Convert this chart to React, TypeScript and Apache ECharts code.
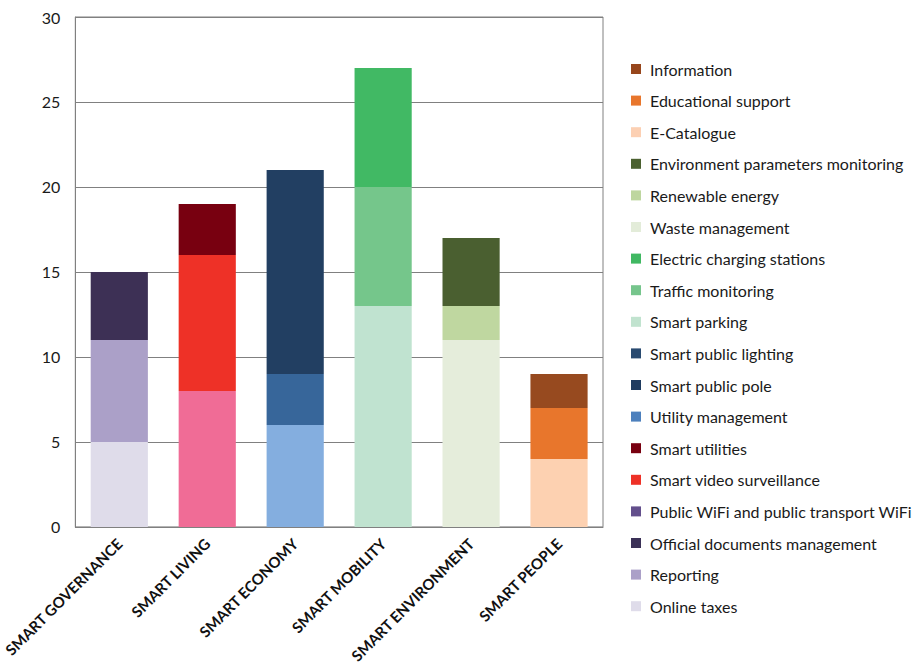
import React, { useEffect, useRef } from "react";
import * as echarts from "echarts";

const categories = [
  "SMART GOVERNANCE",
  "SMART LIVING",
  "SMART ECONOMY",
  "SMART MOBILITY",
  "SMART ENVIRONMENT",
  "SMART PEOPLE",
];

// series in stacking order (bottom to top within each category)
const seriesNames = [
  "Online taxes",
  "Reporting",
  "Official documents management",
  "Public WiFi and public transport WiFi",
  "Smart video surveillance",
  "Smart utilities",
  "Utility management",
  "Smart public pole",
  "Smart public lighting",
  "Smart parking",
  "Traffic monitoring",
  "Electric charging stations",
  "Waste management",
  "Renewable energy",
  "Environment parameters monitoring",
  "E-Catalogue",
  "Educational support",
  "Information",
];

// category index each series belongs to
const seriesCategory = [0, 0, 0, 1, 1, 1, 2, 2, 2, 3, 3, 3, 4, 4, 4, 5, 5, 5];

// value of each series
const seriesValues = [5, 6, 4, 8, 8, 3, 6, 3, 12, 13, 7, 7, 11, 2, 4, 4, 3, 2];

// legend swatch colours
const legendColors = [
  "#dfdcea", "#aba0c8", "#3b3157",
  "#634f8c", "#ee3127", "#780010",
  "#4d80bd", "#1f3b60", "#294a70",
  "#c1e3cf", "#76c58c", "#40b862",
  "#e3ecd9", "#bed69f", "#4b6130",
  "#fcd0b3", "#e8762c", "#97461c",
];

// bar fill colours
const barColors = [
  "#dfdcea", "#aba0c8", "#3d3055",
  "#f06c96", "#ee3127", "#780010",
  "#84aedf", "#37669a", "#223f62",
  "#c0e3d0", "#75c68b", "#41b964",
  "#e5eddb", "#bfd7a0", "#4a5f30",
  "#fdd1b1", "#e8762c", "#974a1f",
];

const yMin = 0;
const yMax = 30;
const yInterval = 5;

export default function App() {
  const ref = useRef<HTMLDivElement>(null);

  useEffect(() => {
    if (!ref.current) return;
    const chart = echarts.init(ref.current, null, { renderer: "svg" });

    const series = seriesNames.map((name, i) => ({
      name,
      type: "bar",
      stack: "total",
      barWidth: "65%",
      itemStyle: { color: legendColors[i] },
      data: categories.map((_, c) =>
        c === seriesCategory[i]
          ? { value: seriesValues[i], itemStyle: { color: barColors[i] } }
          : "-"
      ),
    }));

    chart.setOption({
      animation: false,
      textStyle: { fontFamily: "Lato" },
      grid: {
        left: 75,
        right: 313,
        top: 17,
        bottom: 137,
        show: true,
        borderColor: "#808080",
        borderWidth: 1,
      },
      legend: {
        orient: "vertical",
        left: 626,
        top: 56,
        icon: "rect",
        itemWidth: 10,
        itemHeight: 10,
        itemGap: 15.6,
        data: [...seriesNames].reverse(),
        textStyle: {
          fontFamily: "Lato",
          fontSize: 16,
          lineHeight: 16,
          color: "#1a1a1a",
          padding: [0, 0, 0, 4],
        },
      },
      xAxis: {
        type: "category",
        data: categories,
        axisLine: { lineStyle: { color: "#808080", width: 1 } },
        axisTick: { show: false },
        axisLabel: {
          rotate: 45,
          interval: 0,
          margin: 14,
          fontFamily: "Lato",
          fontWeight: "bold",
          fontSize: 15,
          color: "#111",
        },
      },
      yAxis: {
        type: "value",
        min: yMin,
        max: yMax,
        interval: yInterval,
        axisLine: { show: true, lineStyle: { color: "#808080" } },
        axisTick: { show: false },
        splitLine: { lineStyle: { color: "#808080", width: 1 } },
        axisLabel: {
          margin: 15,
          fontFamily: "Lato",
          fontSize: 16,
          color: "#1a1a1a",
        },
      },
      series,
    });

    return () => chart.dispose();
  }, []);

  return (
    <div
      ref={ref}
      style={{ position: "absolute", left: 0, top: 0, width: 916, height: 666 }}
    />
  );
}
